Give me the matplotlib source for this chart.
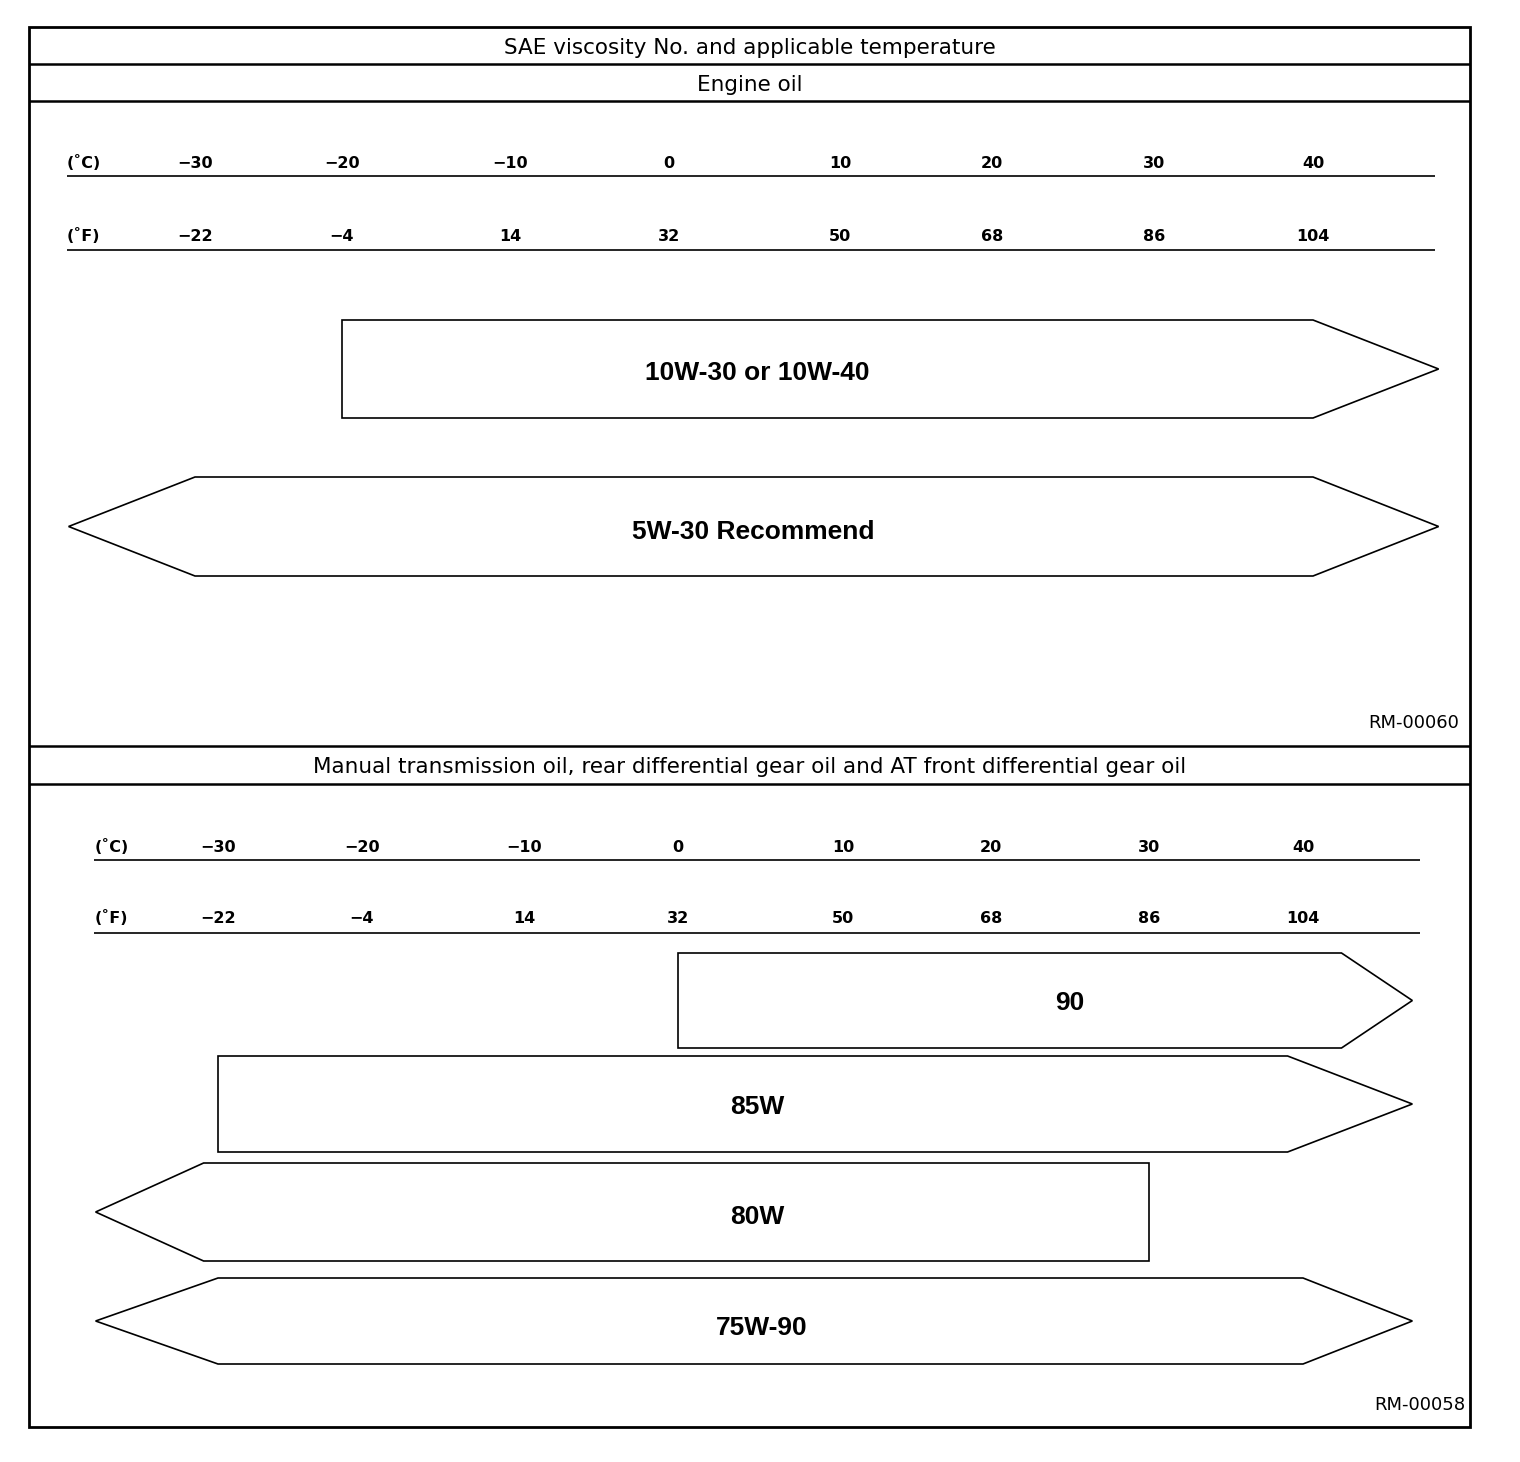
import matplotlib
matplotlib.use("Agg")
import matplotlib.pyplot as plt
from matplotlib.patches import Polygon, Rectangle
import numpy as np

# ---- data ----
title = "SAE viscosity No. and applicable temperature"
engine_title = "Engine oil"
gear_title = "Manual transmission oil, rear differential gear oil and AT front differential gear oil"

temps_c = [-30, -20, -10, 0, 10, 20, 30, 40]
temps_f = [-22, -4, 14, 32, 50, 68, 86, 104]

engine_grades = ["10W-30 or 10W-40", "5W-30 Recommend"]
engine_from = [-20, -30]
engine_to = [40, 40]
engine_open_low = [False, True]
engine_open_high = [True, True]

gear_grades = ["90", "85W", "80W", "75W-90"]
gear_from = [0, -30, -31, -30]
gear_to = [42.5, 39, 30, 40]
gear_open_low = [False, False, True, True]
gear_open_high = [True, True, False, True]

# ---- layout (pixels of the 1520x1462 sheet) ----
W, H = 1520, 1462
FRAME = (29, 27, 1470, 1427)
label_font = "Liberation Sans"
head_font = "DejaVu Sans"
tick_font = "DejaVu Sans"

# where each degC tick sits across the sheet (the printed scale is not even)
engine_tick_px = [195, 342, 510, 669, 840, 992, 1154, 1313]
gear_tick_px = [218, 362, 524, 678, 843, 991, 1149, 1303]


def minus(v):
    return f"{v}".replace("-", "\u2212")


def make_scale(tick_px):
    c = np.array(temps_c, float)
    p = np.array(tick_px, float)
    s0 = (p[1] - p[0]) / (c[1] - c[0])
    s1 = (p[-1] - p[-2]) / (c[-1] - c[-2])
    c = np.concatenate([[c[0] - 200], c, [c[-1] + 200]])
    p = np.concatenate([[p[0] - 200 * s0], p, [p[-1] + 200 * s1]])
    fwd = lambda t: np.interp(t, c, p)
    inv = lambda x: np.interp(x, p, c)
    return fwd, inv


def tip_arrow(ax, lo, hi, top, bot, open_lo, open_hi, tip_lo, tip_hi):
    mid = (top + bot) / 2
    pts = [(lo, bot)]
    if open_lo:
        pts.append((tip_lo, mid))
    pts += [(lo, top), (hi, top)]
    if open_hi:
        pts.append((tip_hi, mid))
    pts.append((hi, bot))
    ax.add_patch(Polygon(pts, closed=True, facecolor="white",
                         edgecolor="black", lw=1.2, joinstyle="miter"))


def panel(fig, tick_px, c_base, c_line, f_base, f_line,
          grades, lo, hi, open_lo, open_hi, tops, bots, bases, label_at,
          tip_lo, tip_hi, line_end):
    # axes spanning the whole sheet; x in degC, y in pixels
    ax = fig.add_axes([0, 0, 1, 1])
    fwd, inv = make_scale(tick_px)
    ax.set_xscale("function", functions=(fwd, inv))
    ax.set_xlim(inv(0), inv(W))
    ax.set_ylim(H, 0)
    ax.axis("off")
    ax.patch.set_alpha(0)

    for base, line, unit, vals in [(c_base, c_line, "(˚C)", temps_c),
                                   (f_base, f_line, "(˚F)", temps_f)]:
        ax.plot([tip_lo - 0.1, line_end], [line, line], color="black", lw=1.2,
                solid_capstyle="butt")
        ax.text(tip_lo - 0.1, base, unit, ha="left", va="baseline",
                family=tick_font, weight="bold", fontsize=11.5)
        for t, v in zip(temps_c, vals):
            ax.text(t, base, minus(v), ha="center", va="baseline",
                    family=tick_font, weight="bold", fontsize=11.5)

    for i, name in enumerate(grades):
        tip_arrow(ax, lo[i], hi[i], tops[i], bots[i], open_lo[i], open_hi[i],
                  tip_lo, tip_hi)
        ax.text(label_at[i], bases[i], name, ha="center", va="baseline",
                family=label_font, weight="bold", fontsize=19)
    return ax


fig = plt.figure(figsize=(W / 100, H / 100), dpi=100)
fig.patch.set_facecolor("white")

ax0 = fig.add_axes([0, 0, 1, 1])
ax0.set_xlim(0, W)
ax0.set_ylim(H, 0)
ax0.axis("off")
x0, y0, x1, y1 = FRAME
ax0.add_patch(Rectangle((x0, y0), x1 - x0, y1 - y0, fill=False,
                        edgecolor="black", lw=2.0))
for y in [64, 101, 746, 784]:
    ax0.plot([x0, x1], [y, y], color="black", lw=1.8, solid_capstyle="butt")
cx = (x0 + x1) / 2
ax0.text(cx, 53.5, title, ha="center", va="baseline", family=head_font,
         fontsize=15.5)
ax0.text(cx, 91, engine_title, ha="center", va="baseline",
         family=head_font, fontsize=15.5)
ax0.text(cx, 773, gear_title, ha="center", va="baseline",
         family=head_font, fontsize=15.5)
ax0.text(1459, 728, "RM-00060", ha="right", va="baseline",
         family=head_font, fontsize=13)
ax0.text(1465, 1410, "RM-00058", ha="right", va="baseline",
         family=head_font, fontsize=13)

panel(fig, engine_tick_px, 168, 176, 241, 250,
      engine_grades, engine_from, engine_to, engine_open_low, engine_open_high,
      tops=[320, 477], bots=[418, 576], bases=[380, 539],
      label_at=[5.15, 4.9], tip_lo=-38.6, tip_hi=47.9, line_end=47.7)

panel(fig, gear_tick_px, 852, 860, 923, 933,
      gear_grades, gear_from, gear_to, gear_open_low, gear_open_high,
      tops=[953, 1056, 1163, 1278], bots=[1048, 1152, 1261, 1364],
      bases=[1010, 1114, 1224, 1335],
      label_at=[25, 4.8, 4.8, 5.1], tip_lo=-38.5, tip_hi=47.1, line_end=47.6)

fig.savefig("out.png", dpi=100, facecolor="white")
